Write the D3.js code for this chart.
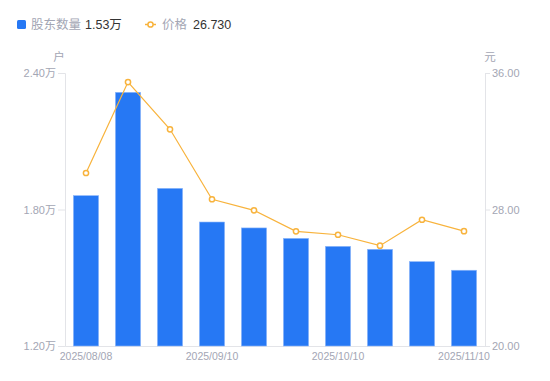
<!DOCTYPE html>
<html lang="zh-CN">
<head>
<meta charset="utf-8">
<title>股东数量</title>
<script src="https://d3js.org/d3.v7.min.js"></script>
<style>
  body { margin: 0; background: #fff; }
  #chart text { font-family: "Liberation Sans", "Noto Sans CJK SC", sans-serif; }
</style>
</head>
<body>
<div id="chart"></div>
<script>
"use strict";

// 数据
var dates = ["2025/08/08", "2025/08/20", "2025/08/29", "2025/09/10", "2025/09/19",
             "2025/09/30", "2025/10/10", "2025/10/20", "2025/10/31", "2025/11/10"];
var holders = [1.861, 2.315, 1.893, 1.745, 1.719, 1.673, 1.638, 1.625, 1.571, 1.533]; // 万户
var prices = [30.14, 35.47, 32.70, 28.60, 27.95, 26.72, 26.52, 25.88, 27.40, 26.73]; // 元
var leftTicks = [1.2, 1.8, 2.4];
var rightTicks = [20, 28, 36];
var shownDates = ["2025/08/08", "2025/09/10", "2025/10/10", "2025/11/10"];

var W = 550, H = 381;
var margin = {top: 73, right: 65, bottom: 35, left: 65};
var innerW = W - margin.left - margin.right,
    innerH = H - margin.top - margin.bottom;

var blue = "#2678f4", orange = "#f8b33c", grey = "#a3a6b4", axisCol = "#e3e4e8";

var svg = d3.select("#chart").append("svg")
    .attr("width", W).attr("height", H);

// 图例
var lg = svg.append("g");
lg.append("rect").attr("x", 17).attr("y", 20).attr("width", 9).attr("height", 9)
  .attr("rx", 1.5).attr("fill", blue);
lg.append("text").attr("x", 31).attr("y", 29).attr("font-size", 12.5).attr("fill", grey).text("股东数量");
lg.append("text").attr("x", 85).attr("y", 29).attr("font-size", 12.5).attr("fill", "#333")
  .text(d3.format(".2f")(holders[holders.length - 1]) + "万");
lg.append("line").attr("x1", 145).attr("x2", 156).attr("y1", 24.5).attr("y2", 24.5)
  .attr("stroke", orange).attr("stroke-width", 1.5);
lg.append("circle").attr("cx", 150.5).attr("cy", 24.5).attr("r", 2.6)
  .attr("fill", "#fff").attr("stroke", orange).attr("stroke-width", 1.5);
lg.append("text").attr("x", 162).attr("y", 29).attr("font-size", 12.5).attr("fill", grey).text("价格");
lg.append("text").attr("x", 193).attr("y", 29).attr("font-size", 12.5).attr("fill", "#333")
  .text(d3.format(".3f")(prices[prices.length - 1]));

var g = svg.append("g").attr("transform", "translate(" + margin.left + "," + margin.top + ")");

var x = d3.scaleBand().domain(dates).range([0, innerW]).paddingInner(0.4).paddingOuter(0.2);
var yL = d3.scaleLinear().domain([1.2, 2.4]).range([innerH, 0]);
var yR = d3.scaleLinear().domain([20, 36]).range([innerH, 0]);

// 轴
var axL = g.append("g")
  .call(d3.axisLeft(yL).tickValues(leftTicks).tickSize(7).tickPadding(2)
    .tickFormat(function (d) { return d3.format(".2f")(d) + "万"; }));
var axR = g.append("g").attr("transform", "translate(" + innerW + ",0)")
  .call(d3.axisRight(yR).tickValues(rightTicks).tickSize(5).tickPadding(2)
    .tickFormat(d3.format(".2f")));
var axB = g.append("g").attr("transform", "translate(0," + innerH + ")")
  .call(d3.axisBottom(x).tickValues(shownDates).tickSize(0).tickPadding(7));

[axL, axR, axB].forEach(function (a) {
  a.select(".domain").attr("stroke", axisCol);
  a.selectAll(".tick line").attr("stroke", axisCol);
  a.selectAll(".tick text").attr("fill", grey).attr("font-size", 11)
    .attr("font-family", "Liberation Sans, Noto Sans CJK SC, sans-serif");
});
axB.selectAll(".tick text").attr("font-size", 10.5);

// 单位
g.append("text").attr("x", -6).attr("y", -12).attr("text-anchor", "middle")
  .attr("font-size", 11.5).attr("fill", grey).text("户");
g.append("text").attr("x", innerW + 5).attr("y", -12).attr("text-anchor", "middle")
  .attr("font-size", 11.5).attr("fill", grey).text("元");

// 柱
g.selectAll(".bar").data(holders).enter().append("rect")
  .attr("class", "bar")
  .attr("x", function (d, i) { return x(dates[i]); })
  .attr("y", function (d) { return yL(d); })
  .attr("width", x.bandwidth())
  .attr("height", function (d) { return innerH - yL(d); })
  .attr("fill", blue)
  .attr("stroke", "#8fb8fa").attr("stroke-width", 0.6);

// 折线
var line = d3.line()
  .x(function (d, i) { return x(dates[i]) + x.bandwidth() / 2; })
  .y(function (d) { return yR(d); });
g.append("path").datum(prices).attr("d", line)
  .attr("fill", "none").attr("stroke", orange).attr("stroke-width", 1.2);
g.selectAll(".pt").data(prices).enter().append("circle")
  .attr("class", "pt")
  .attr("cx", function (d, i) { return x(dates[i]) + x.bandwidth() / 2; })
  .attr("cy", function (d) { return yR(d); })
  .attr("r", 2.6)
  .attr("fill", "#fff").attr("stroke", orange).attr("stroke-width", 1.5);
</script>
</body>
</html>
